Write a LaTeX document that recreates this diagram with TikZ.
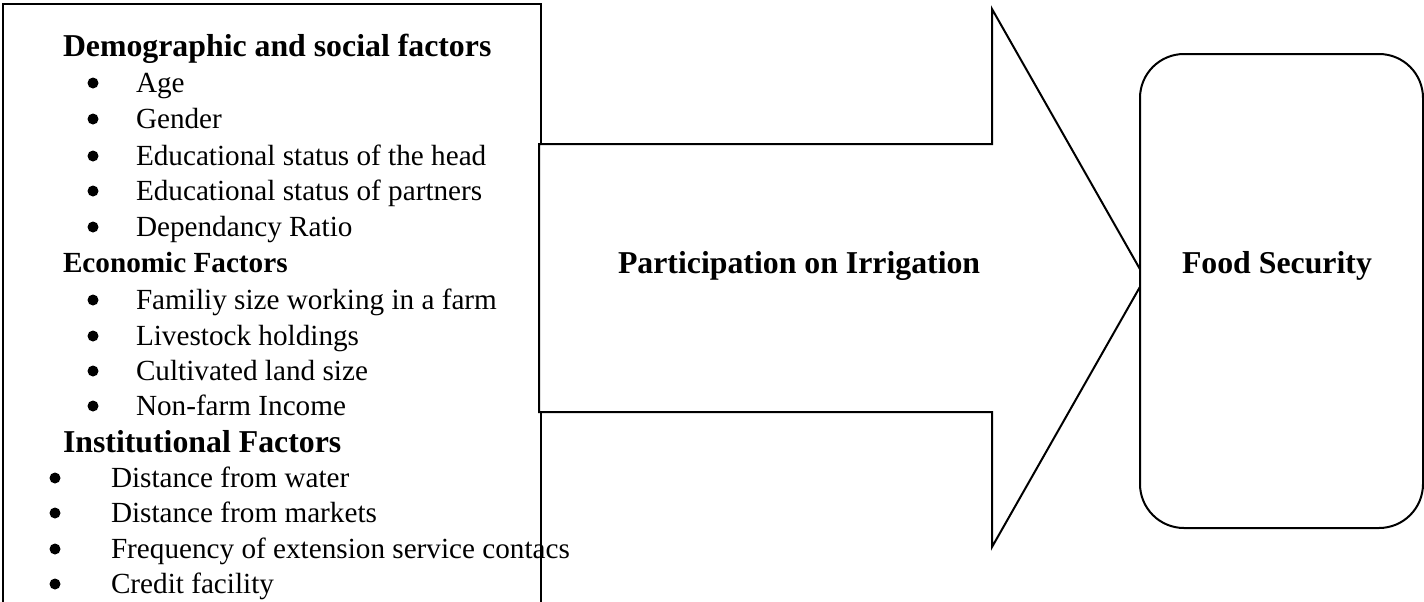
\documentclass[tikz,border=0pt]{standalone}
\usepackage{fontspec}
\setmainfont{Liberation Serif}
\begin{document}
\begin{tikzpicture}[x=0.5pt,y=-0.5pt,line width=1pt,
  body/.style={anchor=base west,inner sep=0pt,font=\fontsize{14.6}{17}\selectfont},
  headA/.style={anchor=base west,inner sep=0pt,font=\fontsize{15.9}{19}\selectfont\bfseries},
  headB/.style={anchor=base west,inner sep=0pt,font=\fontsize{14.6}{17}\selectfont\bfseries},
  dot/.style={circle,fill=black,draw=none,inner sep=0pt,minimum size=5.5pt},
  outl/.style={draw=black,line width=1pt,fill=white}]
\useasboundingbox (0,0) rectangle (1424,601);
\clip (0,0) rectangle (1424,601);
% left box
\node[draw=black,line width=1pt,anchor=north west,minimum width=269pt,minimum height=330pt,inner sep=0pt] (factors) at (2,3) {};
% block arrow
\draw[outl,line join=miter] (539,144) -- (992,144) -- (992,9) -- (1145,278) -- (992,547) -- (992,412) -- (539,412) -- cycle;
\node[headA] (part) at (617,273) {Participation on Irrigation};
% food security box
\node[outl,rounded corners=22pt,minimum width=141.5pt,minimum height=237pt,inner sep=0pt] (fsbox) at (1281.5,291) {};
\node[headA] (fs) at (1181,273) {Food Security};
% texts
\node[headA] (h1) at (62,56) {Demographic and social factors};
\node[body] (t1) at (135,92) {Age};
\node[body] (t2) at (135,128) {Gender};
\node[body] (t3) at (135,165) {Educational status of the head};
\node[body] (t4) at (135,200) {Educational status of partners};
\node[body] (t5) at (135,236) {Dependancy Ratio};
\node[headB] (h2) at (62,272) {Economic Factors};
\node[body] (t6) at (135,309) {Familiy size working in a farm};
\node[body] (t7) at (135,345) {Livestock holdings};
\node[body] (t8) at (135,380) {Cultivated land size};
\node[body] (t9) at (135,415) {Non-farm Income};
\node[headA] (h3) at (62,452) {Institutional Factors};
\node[body] (t10) at (110,487) {Distance from water};
\node[body] (t11) at (110,522) {Distance from markets};
\node[body] (t12) at (110,558) {Frequency of extension service contacs};
\node[body] (t13) at (110,593) {Credit facility};
% bullets
\node[dot] (b1) at (93,83) {};
\node[dot] (b2) at (93,119) {};
\node[dot] (b3) at (93,156) {};
\node[dot] (b4) at (93,191) {};
\node[dot] (b5) at (93,227) {};
\node[dot] (b6) at (93,300) {};
\node[dot] (b7) at (93,336) {};
\node[dot] (b8) at (93,371) {};
\node[dot] (b9) at (93,406) {};
\node[dot] (b10) at (55,478) {};
\node[dot] (b11) at (55,513) {};
\node[dot] (b12) at (55,549) {};
\node[dot] (b13) at (55,584) {};
\end{tikzpicture}
\end{document}
